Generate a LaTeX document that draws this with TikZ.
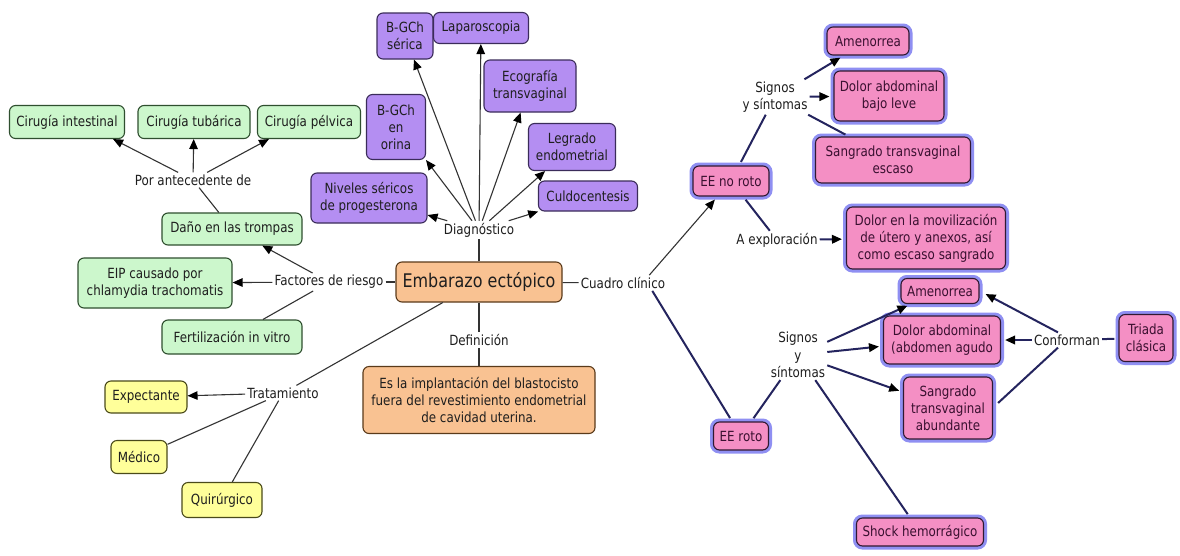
\documentclass[tikz,border=0pt]{standalone}
\usepackage{fontspec}
\setmainfont{DejaVu Sans}[FakeStretch=0.85]
\usetikzlibrary{arrows.meta,calc}
\definecolor{gfill}{HTML}{CCF7CC}
\definecolor{gline}{HTML}{2F4F2F}
\definecolor{pfill}{HTML}{B48EF2}
\definecolor{pline}{HTML}{3B2C5A}
\definecolor{ofill}{HTML}{F9C292}
\definecolor{oline}{HTML}{5A3A1A}
\definecolor{yfill}{HTML}{FFFF9A}
\definecolor{yline}{HTML}{4A4A1A}
\definecolor{kfill}{HTML}{F48FC4}
\definecolor{kline}{HTML}{301830}
\definecolor{glow}{HTML}{8F8FF2}
\definecolor{navy}{HTML}{24245E}
\definecolor{txt}{HTML}{1E1E1E}
\definecolor{ktxt}{HTML}{3A1030}
\begin{document}
\begin{tikzpicture}[x=1pt,y=-1pt,
  base/.style={rounded corners=6, line width=1.1, align=center, inner sep=2,
    text=txt, font=\fontsize{14}{17}\selectfont},
  gbox/.style={base, fill=gfill, draw=gline},
  pbox/.style={base, fill=pfill, draw=pline},
  obox/.style={base, fill=ofill, draw=oline},
  ybox/.style={base, fill=yfill, draw=yline},
  kbox/.style={base, fill=kfill, draw=kline, text=ktxt,
    preaction={draw=glow, line width=7}},
  lbl/.style={inner sep=2, align=center, text=txt, font=\fontsize{14}{17.5}\selectfont},
  ln/.style={draw=black!80, line width=1.1},
  nv/.style={draw=navy, line width=2},
  arr/.style={-{Triangle[length=10pt,width=8.5pt,color=black]}},
]
\fill[white] (0,0) rectangle (1180,555);
\useasboundingbox (0,0) rectangle (1180,555);

% ---- green
\node[gbox, minimum width=115, minimum height=33] (ci) at (67,122) {Cirugía intestinal};
\node[gbox, minimum width=112, minimum height=33] (ct) at (194,122) {Cirugía tubárica};
\node[gbox, minimum width=103, minimum height=33] (cp) at (309,122) {Cirugía pélvica};
\node[lbl] (pad) at (193,180) {Por antecedente de};
\node[gbox, minimum width=140, minimum height=32] (dano) at (232,229) {Daño en las trompas};
\node[gbox, minimum width=154, minimum height=50] (eip) at (155,283) {EIP causado por\\chlamydia trachomatis};
\node[gbox, minimum width=140, minimum height=34] (fiv) at (232,337) {Fertilización in vitro};
\node[lbl] (fr) at (329,282) {Factores de riesgo};

% ---- purple
\node[pbox, minimum width=56, minimum height=46] (bs) at (405,36) {B-GCh\\sérica};
\node[pbox, minimum width=95, minimum height=31] (lap) at (481,28) {Laparoscopia};
\node[pbox, minimum width=92, minimum height=52] (eco) at (530,86) {Ecografía\\transvaginal};
\node[pbox, minimum width=59, minimum height=65] (bo) at (396,127) {B-GCh\\en\\orina};
\node[pbox, minimum width=87, minimum height=47] (leg) at (572,147) {Legrado\\endometrial};
\node[pbox, minimum width=99, minimum height=30] (cul) at (588,196) {Culdocentesis};
\node[pbox, minimum width=116, minimum height=50] (niv) at (369,198) {Niveles séricos\\de progesterona};
\node[lbl] (diag) at (479,230) {Diagnóstico};

% ---- centre
\node[obox, minimum width=166, minimum height=40, font=\fontsize{18.8}{21}\selectfont] (ee) at (479,282) {Embarazo ectópico};
\node[lbl] (def) at (479,340) {Definición};
\node[obox, minimum width=232, minimum height=67] (defbox) at (479,400) {Es la implantación del blastocisto\\fuera del revestimiento endometrial\\de cavidad uterina.};
\node[lbl] (cc) at (623,283) {Cuadro clínico};

% ---- yellow
\node[lbl] (trat) at (283,393) {Tratamiento};
\node[ybox, minimum width=82, minimum height=32] (exp) at (146,397) {Expectante};
\node[ybox, minimum width=56, minimum height=33] (med) at (139,457) {Médico};
\node[ybox, minimum width=80, minimum height=35] (qui) at (222,500) {Quirúrgico};

% ---- pink
\node[kbox, minimum width=82, minimum height=28] (am1) at (868,41) {Amenorrea};
\node[kbox, minimum width=110, minimum height=50] (dab) at (889,96) {Dolor abdominal\\bajo leve};
\node[kbox, minimum width=155, minimum height=46] (sgs) at (893,160) {Sangrado transvaginal\\escaso};
\node[lbl] (sig1) at (775,97) {Signos\\y síntomas};
\node[kbox, minimum width=76, minimum height=30] (enr) at (731,181) {EE no roto};
\node[lbl] (aexp) at (777,240) {A exploración};
\node[kbox, minimum width=159, minimum height=62] (dmov) at (926,238) {Dolor en la movilización\\de útero y anexos, así\\como escaso sangrado};
\node[kbox, minimum width=78, minimum height=25] (am2) at (940,291) {Amenorrea};
\node[kbox, minimum width=117, minimum height=48] (dag) at (942,340) {Dolor abdominal\\(abdomen agudo};
\node[kbox, minimum width=89, minimum height=62] (sga) at (948,408) {Sangrado\\transvaginal\\abundante};
\node[kbox, minimum width=54, minimum height=47] (tri) at (1146,338) {Triada\\clásica};
\node[lbl] (conf) at (1067,340) {Conforman};
\node[lbl] (sig2) at (798,355) {Signos\\y\\síntomas};
\node[kbox, minimum width=55, minimum height=28] (er) at (741,436) {EE roto};
\node[kbox, minimum width=127, minimum height=28] (shock) at (920,532) {Shock hemorrágico};

% ---- left connectors
\draw[ln,arr] (pad) -- ($(ci.south east)+(-12,0)$);
\draw[ln,arr] (pad) -- (ct);
\draw[ln,arr] (pad) -- ($(cp.south west)+(12,0)$);
\draw[ln] (dano) -- (pad);
\draw[ln,arr] (fr) -- (dano);
\draw[ln,arr] (fr) -- (eip);
\draw[ln] (fr) -- (fiv);
\draw[ln] (fr) -- (ee);
\draw[ln] (ee) -- (trat);
\draw[ln,arr] (trat) -- (exp);
\draw[ln] (trat) -- (med);
\draw[ln] (trat) -- (qui);
\draw[ln] (ee) -- (def);
\draw[ln] (def) -- (defbox);
\draw[ln] (ee) -- (diag);
\draw[ln,arr] (diag) -- (niv);
\draw[ln,arr] (diag) -- (bo.south east);
\draw[ln,arr] (diag) -- (bs);
\draw[ln,arr] (diag) -- (lap);
\draw[ln,arr] (diag) -- (eco);
\draw[ln,arr] (diag) -- (leg);
\draw[ln,arr] (diag) -- (cul);
\draw[ln] (ee) -- (cc);

% ---- right connectors
\draw[ln,arr,shorten >=4] ($(cc.north east)+(-18,0)$) -- (enr);
\draw[nv,shorten >=4] ($(cc.south east)+(-15,0)$) -- (er);
\draw[nv,shorten <=4] (enr) -- (sig1);
\draw[nv,arr,shorten >=4] (sig1) -- (am1);
\draw[nv,arr,shorten >=4] (sig1) -- (dab);
\draw[nv,shorten >=4] (sig1) -- (sgs);
\draw[nv,shorten <=4] (enr) -- (aexp);
\draw[nv,arr,shorten >=4] (aexp) -- (dmov);
\draw[nv,shorten <=4] (er) -- (sig2);
\draw[nv,arr,shorten >=4] (sig2) -- (am2);
\draw[nv,arr,shorten >=4] (sig2) -- (dag);
\draw[nv,arr,shorten >=4] (sig2) -- (sga);
\draw[nv,shorten >=4] (sig2) -- (shock);
\draw[nv,shorten <=4] (tri) -- (conf);
\draw[nv,arr] ($(conf.north)+(-9,0)$) -- ($(am2.east)+(6,3)$);
\draw[nv,arr,shorten >=4] (conf) -- (dag);
\draw[nv] ($(conf.south)+(-9,0)$) -- ($(sga.east)+(5,-5)$);
\end{tikzpicture}
\end{document}
